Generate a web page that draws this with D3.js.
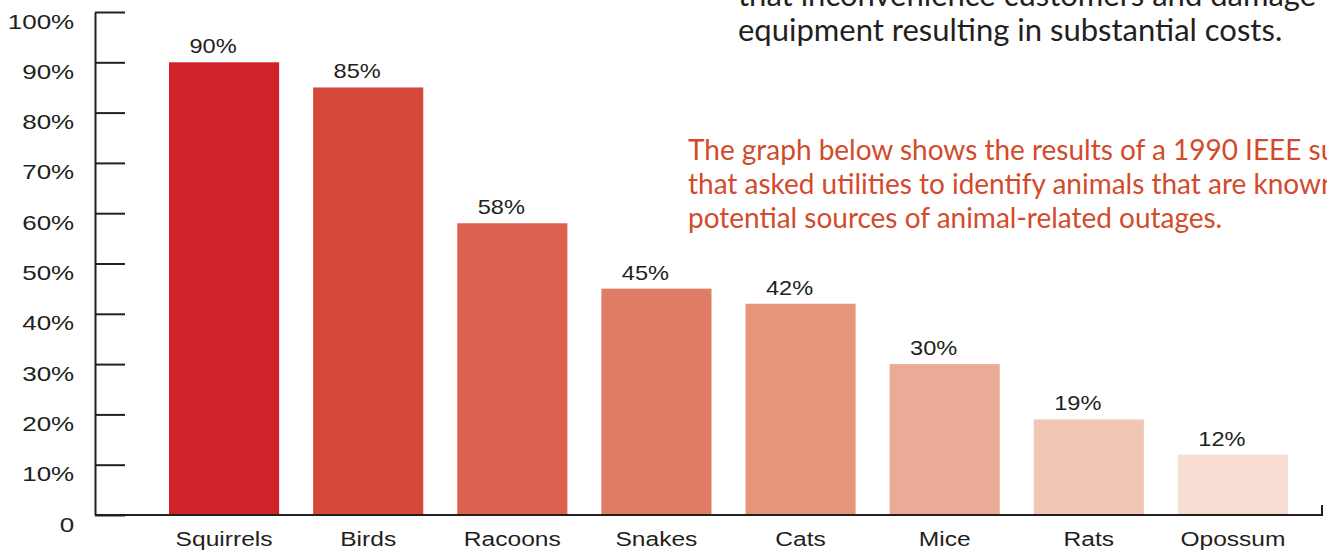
<!DOCTYPE html>
<html>
<head>
<meta charset="utf-8">
<script src="https://cdn.jsdelivr.net/npm/d3@7"></script>
<style>
  body { margin: 0; background: #fff; }
  svg { display: block; }
</style>
</head>
<body>
<div id="chart"></div>
<script>
const categories = ["Squirrels", "Birds", "Racoons", "Snakes", "Cats", "Mice", "Rats", "Opossum"];
const values = [90, 85, 58, 45, 42, 30, 19, 12];
const barColors = ["#d0222a", "#d5483a", "#dc624f", "#e07c63", "#e5957b", "#eaab96", "#f2c6b4", "#f8ded2"];
const yTicks = [0, 10, 20, 30, 40, 50, 60, 70, 80, 90, 100];

const blackText = [
  "that inconvenience customers and damage",
  "equipment resulting in substantial costs."
];
const orangeText = [
  "The graph below shows the results of a 1990 IEEE survey",
  "that asked utilities to identify animals that are known to be",
  "potential sources of animal-related outages."
];

const width = 1327, height = 550;
const margin = {top: 12, right: 5, bottom: 35, left: 95};

const x = d3.scaleBand()
    .domain(categories)
    .range([152, 1305])
    .paddingInner(0.236)
    .paddingOuter(0.118);

const y = d3.scaleLinear()
    .domain([0, 100])
    .range([height - margin.bottom, margin.top]);

const svg = d3.create("svg")
    .attr("width", width)
    .attr("height", height)
    .attr("viewBox", [0, 0, width, height]);

// paragraph text (cut off by the page edge as in the original)
const para = svg.append("g")
    .attr("font-family", "Lato, 'Noto Sans', sans-serif");

para.selectAll("text.black")
  .data(blackText)
  .join("text")
    .attr("class", "black")
    .attr("font-size", 31)
    .attr("fill", "#231f20")
    .attr("transform", (d, i) => `translate(738,${6 + i * 35})`)
    .text(d => d);

para.selectAll("text.orange")
  .data(orangeText)
  .join("text")
    .attr("class", "orange")
    .attr("font-size", 29)
    .attr("fill", "#d24b2c")
    .attr("transform", (d, i) => `translate(688,${160 + i * 34}) scale(0.965,1)`)
    .text(d => d);

// bars
svg.append("g")
  .selectAll("rect")
  .data(values)
  .join("rect")
    .attr("x", (d, i) => x(categories[i]))
    .attr("y", d => y(d))
    .attr("width", x.bandwidth())
    .attr("height", d => y(0) - y(d))
    .attr("fill", (d, i) => barColors[i]);

// value labels, set a bit left of bar centre like the original
svg.append("g")
    .attr("font-family", "'Liberation Sans', Arial, sans-serif")
    .attr("font-size", 20)
    .attr("fill", "#231f20")
    .attr("text-anchor", "middle")
  .selectAll("text")
  .data(values)
  .join("text")
    .attr("transform", (d, i) => `translate(${x(categories[i]) + x.bandwidth() / 2 - 11},${y(d) - 9}) scale(1.18,1)`)
    .text(d => d + "%");

// y axis, ticks pointing inward, labels sit a little below their tick
const yAxis = g => g
    .attr("transform", `translate(${margin.left},0)`)
    .call(d3.axisLeft(y)
      .tickValues(yTicks)
      .tickFormat(d => d === 0 ? "0" : d + "%")
      .tickSizeInner(-30)
      .tickSizeOuter(0)
      .tickPadding(16))
    .call(g => g.selectAll("line, path").attr("stroke", "#231f20").attr("stroke-width", 2))
    .call(g => g.selectAll("text")
      .attr("font-family", "'Liberation Sans', Arial, sans-serif")
      .attr("font-size", 20)
      .attr("fill", "#231f20")
      .attr("dy", "0.8em")
      .attr("transform", "scale(1.3,1)"));

svg.append("g").call(yAxis);

// x axis baseline with small end tick
const xAxis = g => g
    .attr("transform", `translate(0,${y(0)})`)
    .call(d3.axisBottom(x).tickSize(0).tickPadding(16))
    .call(g => g.select(".domain")
      .attr("d", `M${margin.left},0H${width - margin.right}V-10`)
      .attr("stroke", "#231f20")
      .attr("stroke-width", 2)
      .attr("fill", "none"))
    .call(g => g.selectAll(".tick text")
      .attr("font-family", "'Liberation Sans', Arial, sans-serif")
      .attr("font-size", 21)
      .attr("fill", "#231f20")
      .attr("transform", "scale(1.17,1)"));

svg.append("g").call(xAxis);

d3.select("#chart").append(() => svg.node());
</script>
</body>
</html>
